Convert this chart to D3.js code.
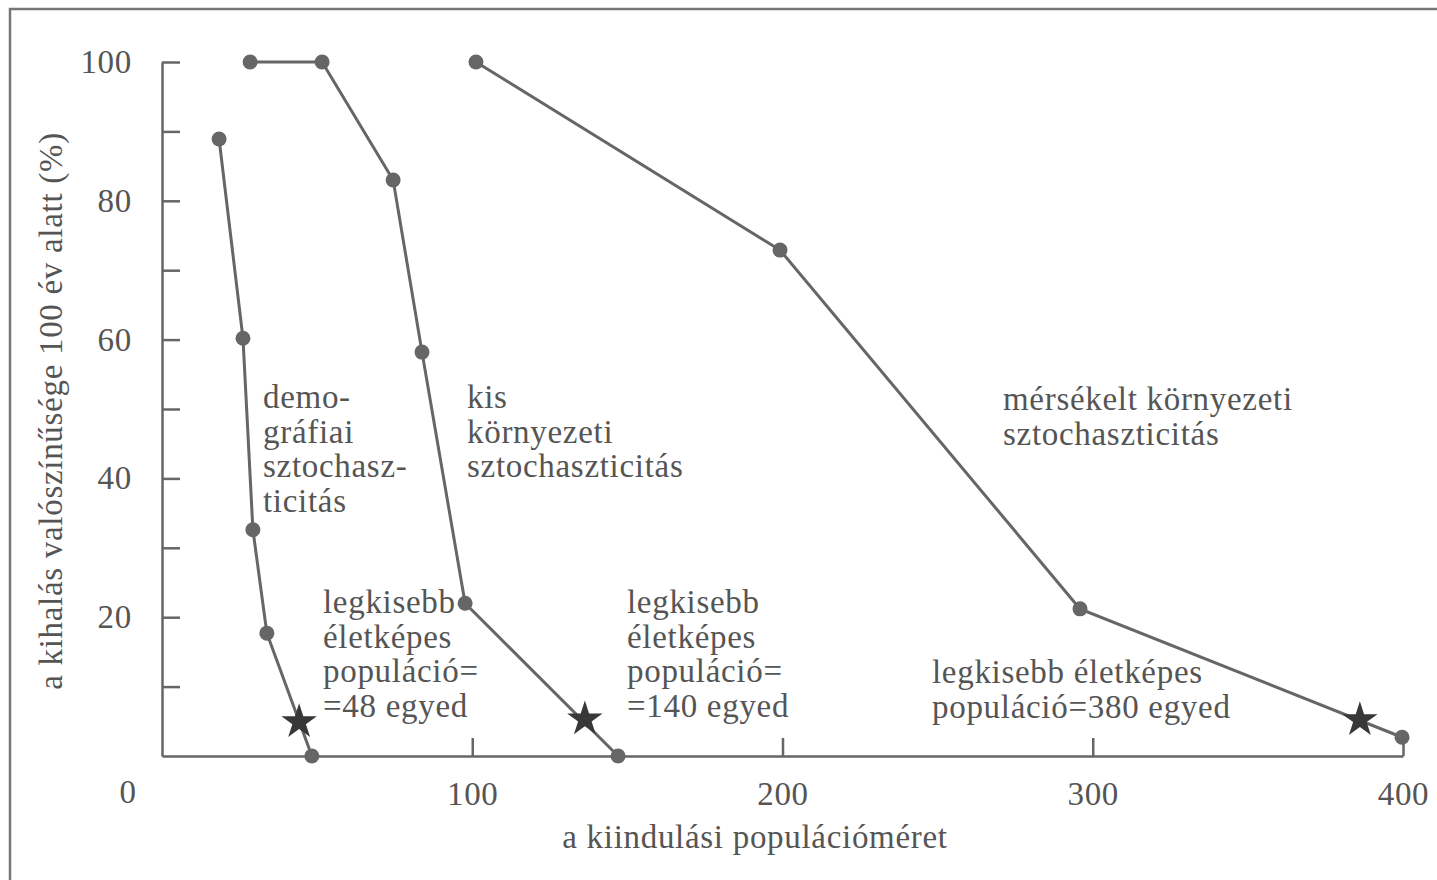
<!DOCTYPE html>
<html lang="hu">
<head>
  <meta charset="UTF-8">
  <title>Kihalási valószínűség</title>
  <script src="https://d3js.org/d3.v7.min.js"></script>
  <style>
    body {
      margin: 0;
      background: #fff;
    }
    svg text {
      font-family: "Liberation Serif", "DejaVu Serif", serif;
      fill: #555;
      letter-spacing: 0.7px;
    }
  </style>
</head>
<body>
  <svg width="1437" height="880"></svg>

  <script>
    // kiindulási populációméret / kihalás valószínűsége (%)
    const demoX = [18.4, 26.1, 29.3, 33.8, 48.3];
    const demoY = [88.9, 60.2, 32.6, 17.7, 0];

    const kisX = [28.4, 51.6, 74.5, 83.8, 97.7, 147];
    const kisY = [100, 100, 83, 58.2, 22, 0];

    const merX = [101.2, 199.2, 295.9, 399.7];
    const merY = [100, 72.9, 21.2, 2.7];

    // legkisebb életképes populáció (csillagok)
    const starX = [44.2, 136.3, 386.1];
    const starY = [4.9, 5.3, 5.2];

    const xTicks = [100, 200, 300, 400];
    const yTicks = [10, 20, 30, 40, 50, 60, 70, 80, 90, 100];

    const svg = d3.select("svg");

    const x = d3.scaleLinear().domain([0, 400]).range([162, 1403]);
    const y = d3.scaleLinear().domain([0, 100]).range([756, 62]);

    // keret
    svg.append("path")
      .attr("d", "M10,880V9H1437")
      .attr("fill", "none")
      .attr("stroke", "#777")
      .attr("stroke-width", 2.5);

    const grey = "#666";

    const yAxis = svg.append("g")
      .attr("transform", `translate(${x(0)},0)`)
      .call(d3.axisLeft(y)
        .tickValues(yTicks)
        .tickSizeInner(-18)
        .tickSizeOuter(0)
        .tickPadding(30)
        .tickFormat(d => d % 20 === 0 ? d : ""));

    const xAxis = svg.append("g")
      .attr("transform", `translate(0,${y(0)})`)
      .call(d3.axisBottom(x)
        .tickValues(xTicks)
        .tickSizeInner(-18)
        .tickSizeOuter(0)
        .tickPadding(26));

    [yAxis, xAxis].forEach(g => {
      g.selectAll("path, line").attr("stroke", grey).attr("stroke-width", 2.5);
      g.selectAll("text").attr("font-size", 33).attr("fill", "#555")
        .style("font-family", '"Liberation Serif", serif');
    });

    // origó felirat
    svg.append("text")
      .attr("x", 128).attr("y", 803)
      .attr("text-anchor", "middle")
      .attr("font-size", 33)
      .text("0");

    const line = d3.line().x(d => x(d[0])).y(d => y(d[1]));

    [[demoX, demoY], [kisX, kisY], [merX, merY]].forEach(([xs, ys]) => {
      const pts = xs.map((v, i) => [v, ys[i]]);
      svg.append("path")
        .datum(pts)
        .attr("d", line)
        .attr("fill", "none")
        .attr("stroke", grey)
        .attr("stroke-width", 3);
      svg.append("g").selectAll("circle")
        .data(pts)
        .join("circle")
        .attr("cx", d => x(d[0]))
        .attr("cy", d => y(d[1]))
        .attr("r", 7.5)
        .attr("fill", grey);
    });

    const star = d3.symbol().type(d3.symbolStar).size(390);
    svg.append("g").selectAll("path")
      .data(starX.map((v, i) => [v, starY[i]]))
      .join("path")
      .attr("d", star)
      .attr("transform", d => `translate(${x(d[0])},${y(d[1])})`)
      .attr("fill", "#383838");

    // feliratok
    function block(lines, px, py) {
      const t = svg.append("text")
        .attr("x", px).attr("y", py)
        .attr("font-size", 33);
      lines.forEach((s, i) => {
        t.append("tspan").attr("x", px).attr("dy", i === 0 ? 0 : 34.5).text(s);
      });
    }

    block(["demo-", "gráfiai", "sztochasz-", "ticitás"], 263, 408);
    block(["kis", "környezeti", "sztochaszticitás"], 467, 408);
    block(["mérsékelt környezeti", "sztochaszticitás"], 1003, 410);
    block(["legkisebb", "életképes", "populáció=", "=48 egyed"], 323, 613);
    block(["legkisebb", "életképes", "populáció=", "=140 egyed"], 627, 613);
    block(["legkisebb életképes", "populáció=380 egyed"], 932, 683);

    // tengelyfeliratok
    svg.append("text")
      .attr("x", 755).attr("y", 848)
      .attr("text-anchor", "middle")
      .attr("font-size", 33)
      .text("a kiindulási populációméret");

    svg.append("text")
      .attr("transform", "translate(62,411) rotate(-90)")
      .attr("text-anchor", "middle")
      .attr("font-size", 33)
      .text("a kihalás valószínűsége 100 év alatt (%)");
  </script>
</body>
</html>
